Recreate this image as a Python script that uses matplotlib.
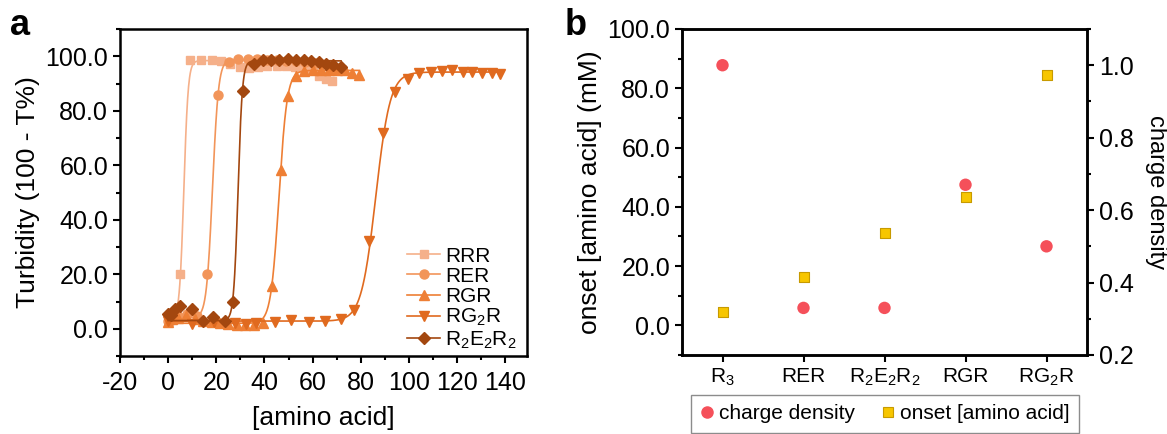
import numpy as np
import matplotlib
matplotlib.use("Agg")
import matplotlib.pyplot as plt
from matplotlib.lines import Line2D
from matplotlib.ticker import MultipleLocator, FormatStrFormatter

plt.rcParams['font.family'] = ['Liberation Sans', 'DejaVu Sans']
plt.rcParams['mathtext.fontset'] = 'custom'
plt.rcParams['mathtext.rm'] = 'Liberation Sans'
plt.rcParams['axes.unicode_minus'] = False

# ---------------- Panel a data ----------------
series_labels = ['RRR', 'RER', 'RGR', r'RG$_\mathregular{2}$R',
                 r'R$_\mathregular{2}$E$_\mathregular{2}$R$_\mathregular{2}$']

rrr_x = [0.5, 2.5, 4.8, 9.0, 13.5, 18.0, 22.0, 25.8, 29.7, 33.5, 37.4, 41.2, 45.0,
         48.8, 52.6, 56.4, 60.0, 62.8, 65.6, 68.1]
rrr_y = [3.0, 3.5, 20.0, 98.6, 98.8, 98.6, 98.2, 97.0, 96.1, 95.8, 96.2, 96.4, 96.4,
         96.3, 96.1, 95.8, 95.0, 92.6, 91.8, 91.0]

rer_x = [0, 4, 8, 12, 16.3, 20.6, 25.1, 29.2, 33.1, 36.9, 41, 45, 49, 53, 57, 61]
rer_y = [3.0, 4.5, 5.5, 4.5, 20.0, 85.7, 98.0, 99.0, 99.0, 99.0, 98.8, 98.6, 98.4,
         98.2, 97.8, 97.4]

rgr_x = [0, 1.5, 4, 7.5, 11, 14.5, 18, 21.5, 25, 28.5, 32, 35.5, 39.3, 43.2, 46.7,
         49.9, 53.2, 56.6, 60.0, 63.4, 66.8, 70.2, 73.5, 76.5, 79.4]
rgr_y = [2.5, 3.5, 4.0, 4.5, 3.5, 3.0, 2.5, 2.0, 1.8, 1.5, 1.2, 1.5, 2.2, 15.6, 58.2,
         85.5, 92.6, 94.5, 95.0, 95.0, 95.0, 95.0, 94.8, 94.0, 93.0]

rg2r_x = [0, 9.7, 19, 27.6, 32.5, 36.6, 44.2, 51.1, 58.4, 65.3, 71.8, 77.3, 83.5,
          89.1, 94.3, 99.7, 104.2, 109.0, 113.6, 118.0, 122.4, 126.3, 130.4, 134.3, 137.8]
rg2r_y = [3.0, 1.8, 2.5, 2.2, 1.8, 2.2, 2.6, 3.3, 2.4, 2.7, 3.6, 6.7, 32.1, 71.8,
          87.0, 91.8, 93.8, 94.4, 94.6, 94.9, 94.4, 94.3, 94.0, 93.7, 93.4]

r2e2r2_x = [0, 1.2, 2.8, 4.8, 9.7, 14.5, 18.6, 23.5, 26.9, 31.1, 35.5, 39.5, 42.8,
            46.0, 49.7, 53.2, 56.2, 59.4, 62.5, 65.6, 68.6, 71.8]
r2e2r2_y = [5.5, 5.0, 7.3, 8.5, 7.3, 3.0, 4.3, 2.7, 9.8, 87.3, 97.0, 98.5, 98.5,
            98.8, 98.9, 98.8, 98.6, 98.3, 98.0, 97.3, 96.8, 96.1]

# Boltzmann fit parameters
fit_A1 = [3.5, 4.0, 2.0, 2.8, 3.0]
fit_A2 = [98.4, 98.8, 94.8, 94.2, 98.3]
fit_x0 = [6.5, 18.4, 46.0, 86.2, 29.0]
fit_dx = [0.9, 1.25, 1.7, 3.0, 0.9]

colors_a = ['#F5B08A', '#F2955A', '#EE7F35', '#E06A1F', '#A3470F']
markers_a = ['s', 'o', '^', 'v', 'D']
msizes_a = [5.5, 6.5, 7, 7, 6]

xs_all = [rrr_x, rer_x, rgr_x, rg2r_x, r2e2r2_x]
ys_all = [rrr_y, rer_y, rgr_y, rg2r_y, r2e2r2_y]

# ---------------- Panel b data ----------------
b_categories = [r'R$_\mathregular{3}$', 'RER',
                r'R$_\mathregular{2}$E$_\mathregular{2}$R$_\mathregular{2}$',
                'RGR', r'RG$_\mathregular{2}$R']
charge_density = [1.0, 0.33, 0.33, 0.67, 0.50]
onset = [4.5, 16.4, 31.3, 43.4, 84.4]

# ---------------- Figure ----------------
W, H = 1167, 434
fig = plt.figure(figsize=(W / 100, H / 100), dpi=100)

def box(l, r, t, b):
    return [l / W, 1 - b / H, (r - l) / W, (b - t) / H]

ax1 = fig.add_axes(box(120, 527, 29, 356))
ax2 = fig.add_axes(box(682, 1087, 29, 355))

SP = 1.8
for ax in (ax1, ax2):
    for s in ax.spines.values():
        s.set_linewidth(SP)
    ax.tick_params(which='major', direction='out', length=5, width=1.5, labelsize=18)
    ax.tick_params(which='minor', direction='out', length=3, width=1.5)

# Panel a
handles = []
for i in range(5):
    x = np.array(xs_all[i], dtype=float)
    y = np.array(ys_all[i], dtype=float)
    xf = np.linspace(x.min(), x.max(), 500)
    yf = fit_A2[i] + (fit_A1[i] - fit_A2[i]) / (1 + np.exp((xf - fit_x0[i]) / fit_dx[i]))
    ax1.plot(xf, yf, color=colors_a[i], lw=1.2, zorder=2 + i)
    ax1.plot(x, y, linestyle='none', marker=markers_a[i], ms=msizes_a[i],
             color=colors_a[i], mec=colors_a[i], zorder=3 + i)
    handles.append(Line2D([], [], color=colors_a[i], lw=1.2, marker=markers_a[i],
                          ms=msizes_a[i], mec=colors_a[i]))

ax1.set_xlim(-20, 149)
ax1.set_ylim(-10, 110)
ax1.xaxis.set_minor_locator(MultipleLocator(10))
ax1.yaxis.set_minor_locator(MultipleLocator(10))
ax1.set_yticks(np.arange(0, 101, 20))
ax1.yaxis.set_major_formatter(FormatStrFormatter('%.1f'))
ax1.set_xticks(np.arange(-20, 141, 20))
ax1.set_ylabel('Turbidity (100 - T%)', fontsize=19, labelpad=4)
ax1.set_xlabel('[amino acid]', fontsize=19, labelpad=8)
ax1.tick_params(axis='x', pad=6)
leg1 = ax1.legend(handles, series_labels, loc='lower left',
                  bbox_to_anchor=(0.705, 0.015), frameon=False, fontsize=15,
                  handlelength=1.6, handletextpad=0.25, labelspacing=0.05,
                  borderpad=0, borderaxespad=0)

# Panel b
ax2.scatter(range(5), onset, marker='s', s=55, color='#F7C600', edgecolors='#C79A00',
            linewidths=0.8, zorder=3)
ax2.set_xlim(-0.5, 4.5)
ax2.set_ylim(-10, 100)
ax2.set_yticks(np.arange(0, 101, 20))
ax2.yaxis.set_minor_locator(MultipleLocator(10))
ax2.yaxis.set_major_formatter(FormatStrFormatter('%.1f'))
ax2.set_xticks(range(5))
ax2.set_xticklabels(b_categories, fontsize=15)
ax2.set_ylabel('onset [amino acid] (mM)', fontsize=19, labelpad=4)

ax3 = ax2.twinx()
for s in ax3.spines.values():
    s.set_linewidth(SP)
ax3.scatter(range(5), charge_density, marker='o', s=80, color='#F5505A',
            edgecolors='none', zorder=3)
ax3.set_ylim(0.2, 1.1)
ax3.set_yticks(np.arange(0.2, 1.01, 0.2))
ax3.yaxis.set_minor_locator(MultipleLocator(0.1))
ax3.yaxis.set_major_formatter(FormatStrFormatter('%.1f'))
ax3.tick_params(which='major', direction='out', length=5, width=1.5, labelsize=18)
ax3.tick_params(which='minor', direction='out', length=3, width=1.5)
ax3.set_ylabel('charge density', fontsize=17, rotation=270, labelpad=24)

hb = [Line2D([], [], linestyle='none', marker='o', ms=8, color='#F5505A'),
      Line2D([], [], linestyle='none', marker='s', ms=6.5, color='#F7C600',
             mec='#C79A00', mew=0.8)]
leg2 = fig.legend(hb, ['charge density', 'onset [amino acid]'], ncol=2,
                  loc='upper left', bbox_to_anchor=(691 / W, 1 - 395 / H, 388 / W, 0),
                  mode='expand', fontsize=15, handlelength=0.6, handletextpad=0.3,
                  columnspacing=1.0, borderpad=0.45, borderaxespad=0,
                  fancybox=False, frameon=True)
leg2.get_frame().set_edgecolor('#707070')
leg2.get_frame().set_linewidth(1.0)

fig.text(10 / W, 1 - 35 / H, 'a', fontsize=26, fontweight='bold', va='baseline')
fig.text(565 / W, 1 - 35 / H, 'b', fontsize=26, fontweight='bold', va='baseline')

fig.savefig('out.png', dpi=100)
